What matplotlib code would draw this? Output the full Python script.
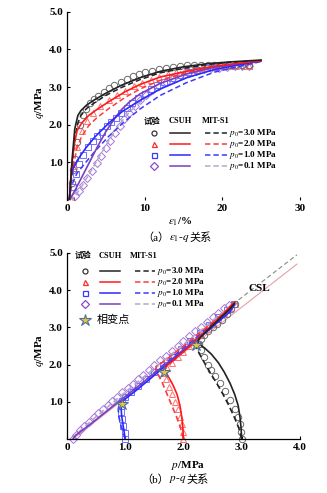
import matplotlib
matplotlib.use("Agg")
import matplotlib.pyplot as plt

plt.rcParams['font.family'] = ['Liberation Serif', 'Noto Sans CJK SC', 'DejaVu Sans']
plt.rcParams['mathtext.fontset'] = 'stix'

# ---------------- data: (a) eps1 - q ----------------
eps_t3 = [0.5, 0.6, 0.8, 1.0, 1.3, 1.7, 2.1, 2.5, 3.0, 3.5, 4.0, 4.7, 5.4, 6.1, 6.9, 7.7, 8.5, 9.3,
          10.1, 10.9, 11.8, 12.7, 13.6, 14.5, 15.4, 16.3, 17.2, 18.1, 19.0, 19.9, 20.8, 21.7, 22.6, 23.4]
q_t3 = [0.0, 0.45, 0.8, 1.1, 1.55, 2.0, 2.25, 2.42, 2.58, 2.68, 2.77, 2.87, 2.97, 3.06, 3.15, 3.22, 3.29,
        3.35, 3.4, 3.44, 3.48, 3.51, 3.54, 3.56, 3.58, 3.59, 3.6, 3.6, 3.6, 3.6, 3.59, 3.59, 3.58, 3.58]
eps_t2 = [0.5, 0.9, 1.3, 1.9, 2.6, 3.4, 4.3, 5.4, 6.4, 7.5, 8.6, 9.7, 10.8, 11.9, 13.0, 14.1, 15.2,
          16.3, 17.4, 18.5, 19.6, 20.7, 21.8, 22.9, 23.5]
q_t2 = [0.0, 0.9, 1.4, 1.84, 2.1, 2.32, 2.5, 2.65, 2.78, 2.9, 3.02, 3.12, 3.2, 3.28, 3.35, 3.4, 3.45,
        3.49, 3.52, 3.54, 3.55, 3.56, 3.56, 3.56, 3.56]
eps_t1 = [0.5, 0.8, 1.2, 1.6, 2.1, 2.7, 3.3, 3.9, 4.5, 5.1, 5.7, 6.3, 7.0, 7.7, 8.4, 9.2, 10.0, 10.8,
          11.6, 12.5, 13.5, 14.5, 15.6, 16.8, 18.0, 19.2, 20.4, 21.6, 22.8, 23.5]
q_t1 = [0.0, 0.35, 0.7, 0.95, 1.2, 1.4, 1.57, 1.7, 1.82, 1.97, 2.08, 2.18, 2.32, 2.45, 2.57, 2.7, 2.82,
        2.94, 3.05, 3.15, 3.25, 3.33, 3.4, 3.46, 3.5, 3.53, 3.55, 3.56, 3.57, 3.57]
eps_t01 = [0.5, 1.0, 1.5, 2.0, 2.6, 3.2, 3.8, 4.4, 5.0, 5.6, 6.2, 6.8, 7.4, 8.0, 8.7, 9.4, 10.2, 11.0,
           11.8, 12.7, 13.6, 14.6, 15.6, 16.6, 17.6, 18.6, 19.6, 20.6, 21.6, 22.6, 23.5]
q_t01 = [0.0, 0.12, 0.25, 0.4, 0.58, 0.78, 0.98, 1.18, 1.38, 1.58, 1.78, 1.97, 2.15, 2.32, 2.5, 2.65,
         2.8, 2.93, 3.04, 3.14, 3.23, 3.31, 3.38, 3.43, 3.47, 3.5, 3.52, 3.54, 3.55, 3.56, 3.56]

eps_c3 = [0.3, 0.7, 1.0, 1.4, 1.8, 2.5, 3.5, 5.0, 7.0, 9.4, 12.0, 15.0, 18.0, 21.0, 25.0]
q_c3 = [0.0, 1.2, 1.9, 2.25, 2.38, 2.52, 2.66, 2.84, 3.05, 3.25, 3.42, 3.54, 3.62, 3.67, 3.72]
q_m3 = [0.0, 1.0, 1.65, 2.05, 2.25, 2.43, 2.58, 2.78, 2.99, 3.2, 3.38, 3.5, 3.6, 3.66, 3.71]
eps_c2 = [0.3, 0.6, 0.9, 1.3, 1.9, 2.8, 3.8, 5.5, 7.5, 9.4, 12.0, 15.4, 19.0, 25.0]
q_c2 = [0.0, 0.9, 1.45, 1.85, 2.05, 2.25, 2.4, 2.63, 2.88, 3.07, 3.27, 3.42, 3.56, 3.7]
q_m2 = [0.0, 0.6, 1.0, 1.4, 1.7, 1.98, 2.18, 2.45, 2.73, 2.95, 3.18, 3.38, 3.53, 3.69]
eps_c1 = [0.3, 0.5, 0.8, 1.3, 2.4, 3.6, 5.4, 7.1, 9.4, 12.0, 15.4, 19.0, 25.0]
q_c1 = [0.0, 0.6, 0.85, 1.05, 1.38, 1.68, 2.05, 2.35, 2.65, 2.95, 3.25, 3.47, 3.7]
q_m1 = [0.0, 0.3, 0.5, 0.72, 1.0, 1.3, 1.7, 2.03, 2.42, 2.78, 3.12, 3.4, 3.68]
eps_c01 = [0.3, 1.0, 2.0, 3.0, 4.0, 5.0, 6.0, 7.0, 8.0, 9.4, 12.0, 15.4, 19.0, 25.0]
q_c01 = [0.0, 0.25, 0.65, 1.05, 1.45, 1.82, 2.13, 2.4, 2.6, 2.82, 3.1, 3.35, 3.53, 3.7]
q_m01 = [0.0, 0.1, 0.4, 0.75, 1.1, 1.45, 1.78, 2.08, 2.33, 2.6, 2.95, 3.25, 3.48, 3.68]

# ---------------- data: (b) p - q ----------------
p_t3 = [3.0, 2.99, 2.97, 2.93, 2.88, 2.8, 2.71, 2.63, 2.55, 2.48, 2.42, 2.35, 2.3, 2.27, 2.3, 2.36,
        2.43, 2.5, 2.58, 2.66, 2.74, 2.82, 2.88]
qp_t3 = [0.0, 0.2, 0.4, 0.6, 0.8, 1.05, 1.3, 1.5, 1.68, 1.85, 2.0, 2.2, 2.4, 2.55, 2.7, 2.8, 2.9, 3.0,
         3.1, 3.2, 3.35, 3.5, 3.62]
p_t2 = [2.0, 1.99, 1.97, 1.94, 1.9, 1.85, 1.8, 1.75, 1.7, 1.68, 1.72, 1.8, 1.9, 2.0, 2.1, 2.2, 2.3,
        2.4, 2.5, 2.6, 2.7, 2.8, 2.88]
qp_t2 = [0.0, 0.2, 0.4, 0.6, 0.8, 1.0, 1.2, 1.4, 1.6, 1.78, 1.92, 2.05, 2.2, 2.35, 2.5, 2.65, 2.8,
         2.95, 3.08, 3.22, 3.38, 3.52, 3.63]
p_t1 = [1.0, 0.99, 0.97, 0.95, 0.93, 0.92, 0.94, 1.0, 1.1, 1.22, 1.36, 1.5, 1.65, 1.8, 1.96, 2.12,
        2.28, 2.44, 2.6, 2.75, 2.86]
qp_t1 = [0.0, 0.15, 0.35, 0.55, 0.72, 0.88, 1.02, 1.12, 1.25, 1.42, 1.6, 1.8, 2.0, 2.2, 2.42, 2.63,
         2.85, 3.06, 3.28, 3.47, 3.62]
p_t01 = [0.1, 0.15, 0.22, 0.3, 0.38, 0.46, 0.54, 0.62, 0.7, 0.78, 0.86, 0.95, 1.04, 1.13, 1.22, 1.31,
         1.4, 1.5, 1.6, 1.7, 1.8, 1.9, 2.0, 2.1, 2.2, 2.3, 2.4, 2.5, 2.6, 2.7, 2.78]
qp_t01 = [0.0, 0.12, 0.25, 0.36, 0.47, 0.58, 0.69, 0.8, 0.91, 1.02, 1.13, 1.25, 1.37, 1.49, 1.61, 1.73,
          1.85, 1.98, 2.11, 2.24, 2.37, 2.5, 2.63, 2.76, 2.89, 3.02, 3.15, 3.27, 3.39, 3.51, 3.6]

p_c3 = [3.0, 2.99, 2.97, 2.94, 2.88, 2.8, 2.7, 2.6, 2.48, 2.36, 2.26, 2.24, 2.3, 2.4, 2.5, 2.6, 2.7, 2.8, 2.88]
qp_c3 = [0.0, 0.3, 0.6, 0.9, 1.2, 1.5, 1.8, 2.05, 2.28, 2.45, 2.56, 2.62, 2.75, 2.9, 3.05, 3.2, 3.35, 3.5, 3.65]
p_m3 = [3.0, 2.95, 2.87, 2.78, 2.68, 2.57, 2.46, 2.36, 2.27, 2.22, 2.21, 2.26, 2.36, 2.48, 2.6, 2.72, 2.85]
qp_m3 = [0.0, 0.3, 0.6, 0.9, 1.2, 1.5, 1.78, 2.05, 2.3, 2.47, 2.58, 2.7, 2.86, 3.05, 3.22, 3.4, 3.62]
p_c2 = [2.0, 1.99, 1.97, 1.94, 1.89, 1.82, 1.75, 1.69, 1.67, 1.72, 1.82, 1.95, 2.1, 2.25, 2.4, 2.55, 2.7, 2.85]
qp_c2 = [0.0, 0.3, 0.6, 0.9, 1.2, 1.45, 1.65, 1.8, 1.88, 1.98, 2.1, 2.28, 2.48, 2.7, 2.92, 3.15, 3.38, 3.65]
p_m2 = [2.0, 1.95, 1.88, 1.8, 1.72, 1.64, 1.57, 1.53, 1.53, 1.6, 1.72, 1.88, 2.05, 2.2, 2.38, 2.55, 2.72, 2.88]
qp_m2 = [0.0, 0.3, 0.6, 0.9, 1.2, 1.5, 1.72, 1.85, 1.95, 2.02, 2.15, 2.35, 2.55, 2.75, 2.98, 3.2, 3.43, 3.68]
p_c1 = [1.0, 0.98, 0.96, 0.94, 0.93, 0.94, 0.98, 1.06, 1.2, 1.4, 1.6, 1.8, 2.0, 2.2, 2.4, 2.6, 2.8, 2.88]
qp_c1 = [0.0, 0.2, 0.4, 0.6, 0.8, 0.95, 1.05, 1.15, 1.32, 1.58, 1.85, 2.1, 2.36, 2.62, 2.88, 3.15, 3.42, 3.62]
p_m1 = [1.0, 0.96, 0.92, 0.89, 0.88, 0.9, 0.95, 1.04, 1.2, 1.4, 1.6, 1.8, 2.0, 2.2, 2.4, 2.6, 2.8, 2.88]
qp_m1 = [0.0, 0.2, 0.4, 0.6, 0.8, 0.95, 1.07, 1.18, 1.38, 1.65, 1.92, 2.18, 2.45, 2.7, 2.97, 3.22, 3.5, 3.64]
p_c01 = [0.1, 0.15, 0.3, 0.5, 0.75, 1.0, 1.25, 1.5, 1.75, 2.0, 2.25, 2.5, 2.75, 2.88]
qp_c01 = [0.0, 0.1, 0.28, 0.52, 0.83, 1.14, 1.45, 1.77, 2.08, 2.4, 2.72, 3.04, 3.36, 3.6]
p_m01 = [0.1, 0.14, 0.3, 0.5, 0.75, 1.0, 1.25, 1.5, 1.75, 2.0, 2.25, 2.5, 2.75, 2.86]
qp_m01 = [0.0, 0.1, 0.33, 0.6, 0.93, 1.26, 1.58, 1.9, 2.22, 2.54, 2.86, 3.18, 3.5, 3.65]

p_star = [2.22, 1.67, 0.94]
q_star = [2.53, 1.8, 0.95]
p_csl = [0.1, 3.95]
q_csl = [0.0, 4.7]
p_ext = [2.85, 3.95]
q_ext = [3.62, 4.95]

labels = ["=3.0 MPa", "=2.0 MPa", "=1.0 MPa", "=0.1 MPa"]

c_solid = ["#222222", "#ff1a1a", "#2a2aff", "#7a3fbf"]
c_dash = ["#222222", "#ff3a3a", "#3a3aff", "#b4a6cc"]
c_mark = ["#6a6a6a", "#ff7070", "#7070ff", "#a577d6"]
c_legm = ["#333333", "#ff2a2a", "#3a3aff", "#8a4ad0"]
markers = ["o", "^", "s", "D"]
msizes = [4.6, 4.6, 4.4, 3.6]

fig = plt.figure(figsize=(3.27, 4.93), dpi=100)
ax1 = fig.add_axes([0.205, 0.594, 0.712, 0.382])
ax2 = fig.add_axes([0.205, 0.1095, 0.712, 0.3775])


def style_axes(ax, show_bottom):
    for s in ['top', 'right']:
        ax.spines[s].set_visible(False)
    ax.spines['bottom'].set_visible(show_bottom)
    ax.spines['left'].set_linewidth(0.9)
    ax.spines['bottom'].set_linewidth(0.9)
    ax.tick_params(direction='in', length=2.5, width=0.8, pad=3)
    for lab in ax.get_xticklabels() + ax.get_yticklabels():
        lab.set_fontweight('bold')
        lab.set_fontsize(8)


def draw_legend(ax, xs, ys, msz, with_star):
    # xs: header centres (3), marker x, solid x0/x1, dash x0/x1, text x
    hx, mx, sx, dx, tx = xs
    tr = ax.transAxes
    for x, t in zip(hx, ["试验", "CSUH", "MIT-S1"]):
        ax.text(x, ys[0], t, transform=tr, ha='center', va='center', fontsize=6, fontweight='bold')
    for i in range(4):
        y = ys[i + 1]
        ax.plot([mx], [y], marker=markers[i], ms=msz, mfc='none', mec=c_legm[i], mew=0.9,
                transform=tr, clip_on=False)
        ax.plot(sx, [y, y], color=c_solid[i], lw=1.1, transform=tr, clip_on=False)
        ax.plot(dx, [y, y], color=c_dash[i], lw=1.1, ls=(0, (3.5, 2)), transform=tr, clip_on=False)
        ax.text(tx, y, r"$p_0$" + labels[i], transform=tr, ha='left', va='center',
                fontsize=6.6, fontweight='bold')
    if with_star:
        y = ys[5]
        ax.plot([mx], [y], marker='*', ms=9, mfc='#f2c12e', mec='#4a6fa5', mew=0.8,
                transform=tr, clip_on=False)
        ax.text(mx + 0.05, y, "相变点", transform=tr, ha='left', va='center', fontsize=8)


def caption(x, y, parts, size):
    # lay text pieces side by side, centred on x (figure fraction)
    renderer = fig.canvas.get_renderer()
    texts = [fig.text(0, y, s, fontsize=size, va='center', ha='left') for s in parts]
    widths = [t.get_window_extent(renderer).width / fig.bbox.width for t in texts]
    x0 = x - sum(widths) / 2
    for t, w in zip(texts, widths):
        t.set_x(x0)
        x0 += w


# ---------- panel (a) ----------
tests_a = [(eps_t3, q_t3), (eps_t2, q_t2), (eps_t1, q_t1), (eps_t01, q_t01)]
csuh_a = [(eps_c3, q_c3), (eps_c2, q_c2), (eps_c1, q_c1), (eps_c01, q_c01)]
mit_a = [(eps_c3, q_m3), (eps_c2, q_m2), (eps_c1, q_m1), (eps_c01, q_m01)]
for i in range(3, -1, -1):
    ax1.plot(*mit_a[i], color=c_dash[i], lw=1.1, ls=(0, (3.5, 2)), zorder=3)
    ax1.plot(*tests_a[i], ls='none', marker=markers[i], ms=msizes[i], mfc='none', mec=c_mark[i],
             mew=0.7, zorder=2)
    ax1.plot(*csuh_a[i], color=c_solid[i], lw=1.2, zorder=4)

ax1.set_xlim(0, 30)
ax1.set_ylim(0, 5)
ax1.set_xticks([0, 10, 20, 30])
ax1.set_xticklabels(["0", "10", "20", "30"])
ax1.set_yticks([1, 2, 3, 4, 5])
ax1.set_yticklabels(["1.0", "2.0", "3.0", "4.0", "5.0"])
style_axes(ax1, False)
draw_legend(ax1, ([0.365, 0.485, 0.64], 0.373, [0.442, 0.528], [0.592, 0.687], 0.695),
            [0.418, 0.356, 0.298, 0.239, 0.181], 3.6, False)

# ---------- panel (b) ----------
ax2.plot(p_csl, q_csl, color='#e6a0a6', lw=0.8, zorder=1)
ax2.plot(p_ext, q_ext, color='#888888', lw=0.8, ls=(0, (4, 2.5)), zorder=1)
ax2.text(3.3, 4.05, "CSL", fontsize=8, fontweight='bold', ha='center', va='center')

tests_b = [(p_t3, qp_t3), (p_t2, qp_t2), (p_t1, qp_t1), (p_t01, qp_t01)]
csuh_b = [(p_c3, qp_c3), (p_c2, qp_c2), (p_c1, qp_c1), (p_c01, qp_c01)]
mit_b = [(p_m3, qp_m3), (p_m2, qp_m2), (p_m1, qp_m1), (p_m01, qp_m01)]
for i in range(3, -1, -1):
    ax2.plot(*tests_b[i], ls='none', marker=markers[i], ms=msizes[i], mfc='none', mec=c_mark[i],
             mew=0.7, zorder=2, clip_on=False)
    ax2.plot(*csuh_b[i], color=c_solid[i], lw=1.2, zorder=4)
    ax2.plot(*mit_b[i], color=c_dash[i], lw=1.2, ls=(0, (3.5, 2)), zorder=3)
ax2.plot(p_star, q_star, ls='none', marker='*', ms=9, mfc='#f2c12e', mec='#4a6fa5', mew=0.8, zorder=6)

ax2.set_xlim(0, 4)
ax2.set_ylim(0, 5)
ax2.set_xticks([0, 1, 2, 3, 4])
ax2.set_xticklabels(["0", "1.0", "2.0", "3.0", "4.0"])
ax2.set_yticks([1, 2, 3, 4, 5])
ax2.set_yticklabels(["1.0", "2.0", "3.0", "4.0", "5.0"])
style_axes(ax2, True)
draw_legend(ax2, ([0.07, 0.185, 0.33], 0.077, [0.142, 0.227], [0.292, 0.378], 0.386),
            [0.982, 0.903, 0.845, 0.786, 0.727, 0.64], 3.6, True)

# ---------- labels ----------
fig.text(0.12, 0.793, r"$q$/MPa", rotation=90, ha='center', va='center', fontsize=8, fontweight='bold')
fig.text(0.12, 0.29, r"$q$/MPa", rotation=90, ha='center', va='center', fontsize=8, fontweight='bold')
fig.text(0.55, 0.551, r"$\varepsilon_1$/%", ha='center', va='center', fontsize=8, fontweight='bold')
fig.text(0.575, 0.055, r"$p$/MPa", ha='center', va='center', fontsize=8, fontweight='bold')
caption(0.541, 0.517, ["（a）", r"$\varepsilon_1$-$q$", "关系"], 8)
caption(0.535, 0.028, ["（b）", r"$p$-$q$", "关系"], 8)

fig.savefig("out.png", dpi=100)
